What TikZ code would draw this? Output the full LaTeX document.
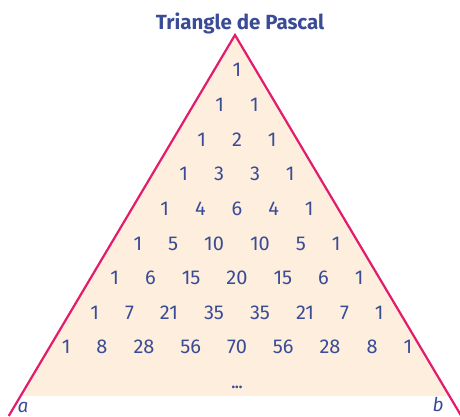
\documentclass[tikz,border=0pt]{standalone}
\usepackage{fontspec}
\setmainfont{Fira Sans}
\definecolor{pink}{HTML}{E31B6D}
\definecolor{peach}{HTML}{FDEEDE}
\definecolor{ink}{HTML}{3A4C96}
\newcommand{\gp}{\hspace{26pt}}

\begin{document}
\begin{tikzpicture}[x=1pt,y=1pt,
  row/.style={anchor=base,text=ink,font=\fontsize{20}{20}\selectfont,inner sep=0pt},
  side/.style={anchor=base,text=ink,font=\fontsize{19}{19}\itshape,inner sep=0pt}]
\useasboundingbox (0,0) rectangle (460,416);
\coordinate (top) at (235,381);
\coordinate (fl) at (20.6,20);
\coordinate (fr) at (449.4,20);
\coordinate (bl) at (8.7,0);
\coordinate (br) at (461.3,0);
\fill[peach] (top) -- (fl) -- (fr) -- cycle;
\begin{scope}
\clip (0,0) rectangle (460,416);
\draw[pink,line width=2.2pt,line join=miter] (bl) -- (top) -- (br);
\end{scope}
\node[anchor=base,text=ink,font=\fontsize{20.5}{20.5}\selectfont\bfseries] (title) at (240,386) {Triangle de Pascal};
\node[row] (r0) at (237,339) {1};
\node[row] (r1) at (237,304.4) {1\gp 1};
\node[row] (r2) at (237,269.8) {1\gp 2\gp 1};
\node[row] (r3) at (237,235.2) {1\gp 3\gp 3\gp 1};
\node[row] (r4) at (237,200.6) {1\gp 4\gp 6\gp 4\gp 1};
\node[row] (r5) at (237,166) {1\gp 5\gp 10\gp 10\gp 5\gp 1};
\node[row] (r6) at (237,131.4) {1\gp 6\gp 15\gp 20\gp 15\gp 6\gp 1};
\node[row] (r7) at (237,96.8) {1\gp 7\gp 21\gp 35\gp 35\gp 21\gp 7\gp 1};
\node[row] (r8) at (237,62.2) {1\gp 8\gp 28\gp 56\gp 70\gp 56\gp 28\gp 8\gp 1};
\node[row,font=\fontsize{15}{15}\selectfont\bfseries] (r9) at (237,27.6) {...};
\node[side] (a) at (23,4) {a};
\node[side] (b) at (438,5) {b};
\end{tikzpicture}
\end{document}
